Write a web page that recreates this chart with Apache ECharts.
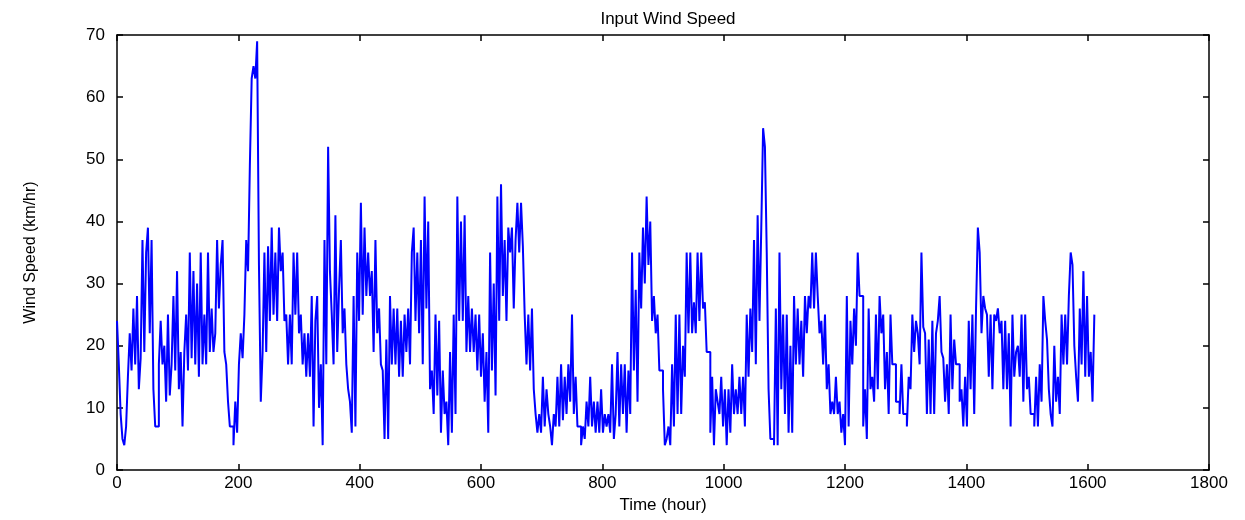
<!DOCTYPE html>
<html>
<head>
    <meta charset="utf-8" />
    <title>Input Wind Speed</title>
    <script src="https://cdn.jsdelivr.net/npm/echarts@6/dist/echarts.min.js"></script>
    <style>
        html, body { margin: 0; padding: 0; background: #fff; }
        #main { width: 1245px; height: 520px; }
    </style>
</head>
<body>
    <div id="main"></div>
    <script type="text/javascript">
        // hourly wind speed at a 3 hour step (km/hr)
        var stepHours = 3;
        var speed0 = [24, 17, 9, 5, 4, 7, 15, 22, 16, 26, 17, 28, 13, 18, 37, 19, 35, 39, 22, 37, 13, 7, 7, 17, 24, 17, 20, 11, 25, 12, 17, 28, 16, 32, 13, 19, 7, 19, 25, 16, 35, 18, 32, 17, 30, 15, 35, 17, 25, 17, 35, 19, 26, 19, 22];
        var speed1 = [37, 26, 33, 37, 19, 17, 11, 7, 7, 4, 11, 6, 17, 22, 18, 25, 37, 32, 49, 63, 65, 63, 69, 33, 11, 19, 35, 19, 36, 24, 39, 25, 35, 24, 39, 32, 35, 24, 25, 17, 25, 17, 35, 25, 35, 22, 25, 17, 22, 15, 22, 15, 28, 7, 24];
        var speed2 = [28, 10, 17, 4, 37, 17, 52, 32, 25, 17, 41, 19, 29, 37, 22, 26, 17, 13, 11, 6, 28, 7, 35, 24, 43, 25, 39, 28, 35, 28, 32, 19, 37, 22, 26, 17, 16, 5, 21, 5, 28, 17, 26, 17, 26, 15, 24, 15, 25, 19, 26, 17, 35, 39, 24];
        var speed3 = [35, 22, 37, 17, 44, 26, 40, 13, 16, 9, 25, 12, 24, 6, 16, 9, 11, 4, 19, 6, 25, 9, 44, 24, 40, 24, 41, 19, 28, 19, 26, 19, 25, 16, 25, 15, 22, 11, 19, 6, 35, 16, 30, 12, 44, 24, 46, 28, 37, 24, 39, 35, 39, 26, 37];
        var speed4 = [43, 35, 43, 36, 25, 17, 25, 16, 26, 13, 9, 6, 9, 6, 15, 7, 13, 9, 7, 4, 9, 7, 15, 7, 17, 8, 15, 9, 17, 11, 25, 9, 15, 7, 7, 4, 7, 5, 11, 7, 15, 7, 11, 6, 11, 6, 13, 6, 9, 7, 9, 6, 17, 5, 9];
        var speed5 = [19, 7, 17, 9, 17, 6, 16, 9, 35, 16, 29, 11, 35, 26, 39, 30, 44, 33, 40, 24, 28, 22, 25, 16, 16, 13, 4, 5, 7, 4, 17, 7, 25, 9, 25, 9, 20, 15, 35, 22, 35, 22, 27, 22, 35, 24, 35, 26, 27, 19, 19, 6, 15, 4, 13];
        var speed6 = [11, 9, 15, 7, 13, 4, 13, 6, 17, 9, 13, 9, 15, 9, 15, 7, 25, 15, 26, 19, 37, 17, 41, 24, 39, 55, 52, 35, 13, 5, 5, 4, 26, 4, 35, 13, 25, 9, 25, 6, 20, 6, 28, 17, 26, 17, 24, 15, 28, 22, 28, 26, 35, 26, 35];
        var speed7 = [28, 22, 24, 17, 25, 13, 17, 9, 11, 9, 15, 9, 11, 6, 9, 4, 28, 7, 24, 17, 26, 20, 35, 28, 28, 7, 13, 5, 26, 13, 15, 11, 25, 13, 28, 22, 25, 13, 19, 9, 25, 17, 17, 11, 11, 9, 17, 9, 9, 7, 15, 13, 25, 19, 24];
        var speed8 = [22, 17, 35, 23, 22, 9, 21, 9, 24, 9, 22, 24, 28, 19, 18, 11, 17, 9, 25, 13, 21, 17, 17, 11, 13, 7, 15, 7, 24, 13, 25, 9, 26, 39, 35, 22, 28, 26, 25, 15, 25, 13, 25, 24, 26, 22, 24, 13, 24, 13, 22, 7, 25, 15, 19];
        var speed9 = [20, 15, 25, 11, 25, 13, 15, 9, 9, 7, 15, 7, 17, 11, 28, 24, 21, 13, 9, 7, 20, 11, 15, 9, 25, 17, 25, 17, 28, 35, 33, 20, 15, 11, 26, 17, 32, 15, 28, 15, 19, 11, 25];

        var xTicks = [0, 1800, 200];
        var yTicks = [0, 70, 10];

        // stairs: each reading is held for stepHours, then jumps straight up or down
        var speed = [].concat(speed0, speed1, speed2, speed3, speed4, speed5, speed6, speed7, speed8, speed9);
        var lineData = [];
        for (var i = 0; i < speed.length; i++) {
            if (i > 0) {
                lineData.push([i * stepHours, speed[i - 1]]);
            }
            lineData.push([i * stepHours, speed[i]]);
        }

        var fontName = 'Liberation Sans, Arial, sans-serif';
        var tickStyle = { show: true, inside: true, length: 6, lineStyle: { color: '#000', width: 1.5 } };
        var frameLine = { show: true, onZero: false, lineStyle: { color: '#000', width: 1.5 } };
        var plainNum = function (v) { return String(v); };

        var option = {
            animation: false,
            backgroundColor: '#fff',
            title: {
                text: 'Input Wind Speed',
                left: 663,
                textAlign: 'center',
                top: 6,
                textStyle: {
                    color: '#000',
                    fontFamily: fontName,
                    fontWeight: 'normal',
                    fontSize: 17
                }
            },
            grid: {
                left: 117,
                right: 36,
                top: 35,
                bottom: 50
            },
            xAxis: [{
                type: 'value',
                min: xTicks[0],
                max: xTicks[1],
                interval: xTicks[2],
                name: 'Time (hour)',
                nameLocation: 'middle',
                nameGap: 27,
                nameTextStyle: { color: '#000', fontFamily: fontName, fontSize: 17 },
                axisLine: frameLine,
                axisTick: tickStyle,
                axisLabel: { color: '#000', fontFamily: fontName, fontSize: 17, margin: 5, formatter: plainNum },
                splitLine: { show: false }
            }, {
                type: 'value',
                position: 'top',
                min: xTicks[0],
                max: xTicks[1],
                interval: xTicks[2],
                axisLine: frameLine,
                axisTick: tickStyle,
                axisLabel: { show: false },
                splitLine: { show: false }
            }],
            yAxis: [{
                type: 'value',
                min: yTicks[0],
                max: yTicks[1],
                interval: yTicks[2],
                name: 'Wind Speed (km/hr)',
                nameLocation: 'middle',
                nameGap: 78,
                nameTextStyle: {
                    color: '#000',
                    fontFamily: 'Liberation Sans Narrow, Liberation Sans, Arial, sans-serif',
                    fontSize: 16
                },
                axisLine: frameLine,
                axisTick: tickStyle,
                axisLabel: { color: '#000', fontFamily: fontName, fontSize: 17, margin: 12, formatter: plainNum },
                splitLine: { show: false }
            }, {
                type: 'value',
                position: 'right',
                min: yTicks[0],
                max: yTicks[1],
                interval: yTicks[2],
                axisLine: frameLine,
                axisTick: tickStyle,
                axisLabel: { show: false },
                splitLine: { show: false }
            }],
            series: [{
                name: 'Wind Speed',
                type: 'line',
                xAxisIndex: 0,
                yAxisIndex: 0,
                showSymbol: false,
                symbol: 'none',
                lineStyle: { color: '#0000ff', width: 2 },
                data: lineData
            }]
        };

        var myChart = echarts.init(document.getElementById('main'));
        myChart.setOption(option);
    </script>
</body>
</html>
